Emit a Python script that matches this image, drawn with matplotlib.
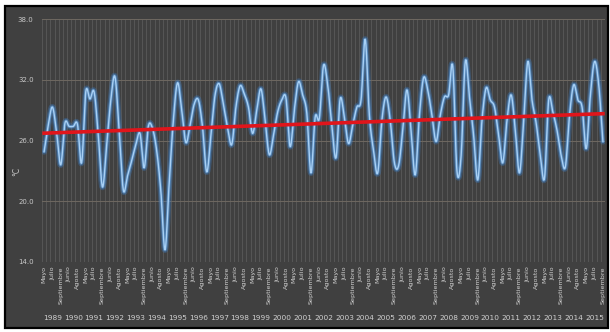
import numpy as np
import matplotlib
matplotlib.use("Agg")
import matplotlib.pyplot as plt
from matplotlib.patches import Rectangle
import matplotlib.transforms as mtransforms

years = list(range(1989, 2016))
months = ["Mayo", "Junio", "Julio", "Agosto", "Septiembre"]
temps = [
    24.9, 27.5, 29.3, 26.8, 23.6,
    27.7, 27.4, 27.4, 27.6, 23.8,
    30.8, 30.1, 30.8, 26.5, 21.4,
    25.5, 30.0, 32.3, 27.0, 21.1,
    22.5, 24.0, 25.6, 26.7, 23.3,
    27.4, 27.2, 25.0, 21.0, 15.2,
    21.8, 28.0, 31.7, 29.0, 25.8,
    27.5, 29.6, 30.0, 27.3, 22.9,
    26.5, 30.5, 31.6, 29.5, 27.3,
    25.6, 29.3, 31.4, 30.6, 29.3,
    26.7, 29.0, 31.1, 28.0, 24.6,
    26.5, 28.8, 30.0, 30.2, 25.4,
    29.0, 31.8, 30.5, 28.7, 22.8,
    28.3, 28.2, 33.4, 31.5, 27.5,
    24.3, 30.1, 28.3, 25.7, 27.5,
    29.3, 30.0, 36.0, 28.5, 25.0,
    22.8, 28.0, 30.3, 28.0, 23.8,
    23.5, 27.0, 31.0, 27.0, 22.6,
    28.5, 32.2, 31.0, 28.5, 25.9,
    28.5, 30.3, 30.5, 33.3, 23.0,
    24.5, 33.8, 30.3, 26.5, 22.1,
    28.0, 31.2, 30.0, 29.3, 26.5,
    23.8, 28.0, 30.5, 27.0, 22.8,
    28.0, 33.8, 30.0, 27.7, 24.5,
    22.3, 30.0, 28.8, 27.0, 24.5,
    23.4, 28.5, 31.5, 30.0, 29.3,
    25.2, 30.5, 33.8, 31.5, 25.9,
]
y_ticks = [14.0, 20.0, 26.0, 32.0, 38.0]

W, H = 610, 332
fig = plt.figure(figsize=(W / 100, H / 100), dpi=100)
fig.patch.set_facecolor("white")
bg = Rectangle((5 / W, 4 / H), 603 / W, 322 / H, transform=fig.transFigure,
               facecolor="#404040", edgecolor="black", linewidth=1.6, zorder=-10)
fig.patches.append(bg)

ax = fig.add_axes([42 / W, 1 - 262 / H, 563 / W, 243 / H])
ax.set_zorder(5)
ax.set_facecolor("#404040")
for s in ax.spines.values():
    s.set_visible(False)

n = len(temps)
x = np.arange(n)
y = np.array(temps)

# Smoothed line drawing (Catmull-Rom style, as in spreadsheet "smooth line")
def smooth(xp, yp, k=12):
    P = np.column_stack([xp, yp])
    P = np.vstack([P[0], P, P[-1]])
    out = []
    for i in range(1, len(P) - 2):
        p0, p1, p2, p3 = P[i - 1], P[i], P[i + 1], P[i + 2]
        for t in np.linspace(0, 1, k, endpoint=False):
            t2, t3 = t * t, t * t * t
            pt = 0.5 * ((2 * p1) + (-p0 + p2) * t + (2 * p0 - 5 * p1 + 4 * p2 - p3) * t2
                        + (-p0 + 3 * p1 - 3 * p2 + p3) * t3)
            out.append(pt)
    out.append(P[-2])
    out = np.array(out)
    return out[:, 0], out[:, 1]

sx, sy = smooth(x, y)

ax.set_xlim(-0.5, n - 0.5)
ax.set_ylim(14, 38)

# gridlines
for b in np.arange(-0.5, n, 1.0):
    ax.axvline(b, color="#5a5a5a", lw=0.6, zorder=1)
for t in y_ticks:
    ax.axhline(t, color="#6e6860", lw=0.7, zorder=1)

# glow + line
ax.plot(sx, sy, color="#3a7cc4", lw=4.5, alpha=0.35, solid_capstyle="round", zorder=3)
ax.plot(sx, sy, color="#5fa0e0", lw=2.4, alpha=0.6, solid_capstyle="round", zorder=3)
ax.plot(sx, sy, color="#a8d0f5", lw=1.0, zorder=4)

# linear trend
c = np.polyfit(x, y, 1)
ax.plot([x[0], x[-1]], np.polyval(c, [x[0], x[-1]]), color="#e0151b", lw=2.6, zorder=5)

ax.set_yticks(y_ticks)
ax.set_yticklabels([f"{v:.1f}" for v in y_ticks], fontsize=5, color="#c8c8c8")
ax.tick_params(axis="y", length=0, pad=6)

labels = [months[i % 5] if i % 2 == 0 else "" for i in range(n)]
ax.set_xticks(x)
ax.set_xticklabels(labels, rotation=90, fontsize=4.6, color="#d0d0d0", va="top")
ax.tick_params(axis="x", length=0, pad=3)

trans = mtransforms.blended_transform_factory(ax.transData, fig.transFigure)
for k, yr in enumerate(years):
    ax.text(5 * k + 2, 1 - 318 / H, str(yr), transform=trans, ha="center", va="center",
            fontsize=5.3, color="#d0d0d0")

fig.text(17 / W, 1 - 171 / H, "°C", rotation=90, ha="center", va="center",
         fontsize=5.5, color="#c8c8c8")

fig.savefig("out.png", dpi=100, facecolor=fig.get_facecolor())
